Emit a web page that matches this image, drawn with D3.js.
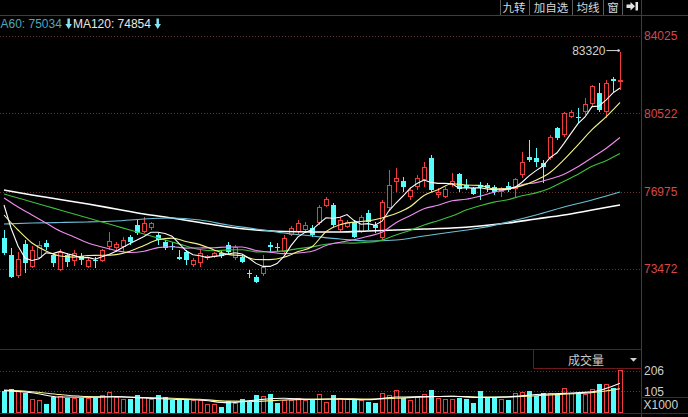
<!DOCTYPE html>
<html><head><meta charset="utf-8">
<script src="https://cdn.jsdelivr.net/npm/d3@7"></script>
<style>
html,body{margin:0;padding:0;background:#000;overflow:hidden;}
svg{display:block;}
</style></head><body>
<svg id="c" width="688" height="417"></svg>
<script>
// ---------- data ----------
const opens  = [74876,74106,73155,74604,73563,73970,74650,74106,73427,74106,73834,74061,73563,73880,73834,74468,74423,74468,74921,75465,75148,75329,75012,74695,74514,74015,74242,73653,73744,73970,74015,74197,74559,73970,74015,73291,73110,73246,74559,74468,74242,75012,75148,75238,75329,75555,76325,76371,75238,75374,75601,75148,76008,75465,74876,76235,77412,77458,76733,77186,77503,78499,76823,76733,77276,77775,77276,77140,77276,77276,77186,76959,77231,77095,77729,78544,78499,78273,78499,79858,79541,80356,80356,80583,80945,81443,80583,82077,81941];
const highs  = [75238,74423,74242,74785,74514,74740,74785,74197,74378,74197,74332,74197,74015,74015,74378,75148,74695,74921,75012,75691,75827,75601,75102,74785,74695,74332,74332,73970,74332,74106,74242,74287,74695,74559,74106,73427,73200,74106,74695,74650,75012,75420,75691,75601,75465,76371,76733,76461,75827,75691,75691,75918,76144,75601,76597,77956,78046,77639,77186,77729,78318,78635,77140,77186,77820,77820,77548,77186,77412,77367,77276,77186,77412,77593,78771,79314,78952,78409,79541,79903,80583,80673,80764,81217,81805,81896,82032,82168,83320];
const lows   = [74106,73064,73064,73291,73517,73925,74332,73563,73381,73563,73608,73653,73517,73517,73789,74332,74242,74242,74559,75012,75102,75238,74559,74332,74332,73880,73653,73563,73563,73880,73970,73970,74106,73880,73744,73064,72838,73155,74197,74287,74197,74966,75012,75102,74921,75465,76280,75374,75148,75350,74876,75102,75238,75102,74785,76144,76959,76959,76597,77050,77186,76959,76688,76688,77186,76959,77050,76823,76597,76959,76823,76733,76959,76733,77593,78318,78092,77367,78409,79314,79450,80311,80084,80447,80809,80583,80311,81488,81579];
const closes = [74197,73110,73925,73744,74332,74559,74468,73744,74242,73789,74197,73880,73880,73834,74332,74740,74604,74785,74695,75102,75555,75555,74785,74423,74468,73925,73880,73880,74197,74061,74197,74061,74242,74468,73789,73246,72883,73563,74468,74423,74876,75329,75555,75465,75012,76280,76642,75465,75691,75601,74921,75827,75601,75329,76506,77276,77593,77186,77050,77593,78092,77050,76959,77095,77458,77095,77186,76869,77186,77140,76959,77140,77050,77548,78318,78409,78318,78092,79450,79405,80537,80583,80311,80945,81760,80673,81896,81987,82032];
const volumes = [107,116,109,99,67,64,44,80,83,72,72,75,75,72,88,101,80,67,67,88,77,67,88,77,64,67,67,64,64,44,44,31,59,48,67,55,88,83,93,50,64,64,72,64,64,93,55,88,72,67,67,64,55,48,96,88,112,72,64,80,93,112,72,67,67,72,67,50,109,80,77,67,64,96,104,109,83,96,96,93,120,96,96,93,116,141,141,120,209];

// moving average lines
const ma5 = [76371,75329,74514,73970,73861,73934,74206,74169,74269,74160,74088,73970,73997,73916,74024,74133,74278,74459,74631,74785,74948,75139,75139,75084,74957,74631,74296,74115,74070,73988,74043,74079,74151,74206,74151,73961,73726,73590,73590,73717,74043,74532,74930,75130,75247,75528,75791,75773,75818,75936,75664,75501,75528,75456,75637,76108,76461,76778,77122,77340,77503,77394,77349,77358,77331,77131,77159,77141,77159,77095,77068,77059,77095,77168,77403,77693,77929,78137,78517,78735,79161,79614,80057,80356,80827,80855,81117,81452,81670];
const step2 = d3.range(0, 89, 2);
const ma10 = [75918,75238,74650,74287,74061,74011,74083,74092,74124,74274,74541,74799,74871,74717,74577,74337,74133,74070,73902,73898,74002,74260,74482,75161,75474,75596,75650,75786,75981,76289,76805,77064,77335,77277,77258,77100,77118,77249,77494,77843,78427,79097,79781,80365,81013];
const ma20 = [76688,76280,75918,75555,75193,74921,74650,74468,74310,74219,74276,74441,74482,74419,74425,74437,74468,74468,74310,74237,74169,74197,74274,74532,74686,74799,74953,75134,75569,75882,76199,76357,76561,76629,76774,76950,77091,77290,77385,77548,77761,78105,78513,78930,79428];
const ma30 = [76869,76688,76507,76325,76144,75963,75782,75601,75420,75238,75057,74876,74695,74514,74355,74296,74337,74346,74246,74251,74292,74396,74473,74595,74650,74645,74681,74781,75016,75220,75469,75660,75868,76140,76339,76502,76611,76792,76919,77131,77444,77761,78123,78377,78703];
const step4 = d3.range(0, 89, 4);
const ma60  = [75510,75555,75578,75601,75646,75737,75782,75691,75465,75284,75102,74967,74831,74740,74785,74967,75148,75329,75601,75918,76280,76597,76959];
const ma120 = [77050,76824,76620,76416,76190,75963,75782,75578,75374,75238,75170,75148,75148,75193,75238,75284,75329,75420,75555,75737,75918,76144,76371];
const volMa5  = [109,99,78,77,81,73,67,64,50,64,72,66,68,65,78,80,82,76,79,90,96,103,145];
const volMa10 = [112,104,90,80,78,76,72,67,58,57,64,68,70,68,72,79,82,78,78,84,92,99,118];

const priceTicks = [84025, 80522, 76975, 73472];
const volTicks = [206, 105];
const volUnit = "X1000";
const highLabel = "83320";
const buttons = ["九转", "加自选", "均线", "窗"];
const legendTexts = ["A60: 75034", "MA120: 74854"];
const volTitle = "成交量";

// ---------- colours ----------
const RED = "#f03c3c", CYAN = "#54fcfc";
const FRAME = "#8e1c1c", DIM = "#6e1818";
const maColors = {ma5:"#ffffff", ma10:"#f4f48c", ma20:"#f08cf0", ma30:"#3cc03c", ma60:"#6cc0d8", ma120:"#ffffff"};

// ---------- scales ----------
const svg = d3.select("#c");
const n = opens.length;
const x = d3.scaleLinear().domain([0, n - 1]).range([4, 620]);
const y = d3.scaleLinear().domain([73472, 84025]).range([269, 36]);
const yv = d3.scaleLinear().domain([0, 206]).range([413.1, 370.7]);
const plotRight = 641.5;

// ---------- frame ----------
svg.append("rect").attr("width", 688).attr("height", 417).attr("fill", "#000");

// grid lines
svg.append("g").selectAll("line").data(priceTicks).join("line")
  .attr("x1", 0).attr("x2", plotRight - 1)
  .attr("y1", d => Math.round(y(d)) + 0.5).attr("y2", d => Math.round(y(d)) + 0.5)
  .attr("stroke", "#6a3434").attr("stroke-dasharray", "1,2");
svg.append("g").selectAll("line").data(volTicks).join("line")
  .attr("x1", 0).attr("x2", plotRight - 1)
  .attr("y1", d => Math.round(yv(d)) + 0.5).attr("y2", d => Math.round(yv(d)) + 0.5)
  .attr("stroke", "#6a3434").attr("stroke-dasharray", "1,2");

// header line, axis line, separators
svg.append("line").attr("x1", 0).attr("x2", 688).attr("y1", 15.5).attr("y2", 15.5).attr("stroke", FRAME);
svg.append("line").attr("x1", plotRight).attr("x2", plotRight).attr("y1", 0).attr("y2", 417).attr("stroke", FRAME);
svg.append("line").attr("x1", 0).attr("x2", plotRight).attr("y1", 349.5).attr("y2", 349.5).attr("stroke", DIM);
svg.append("line").attr("x1", 0).attr("x2", plotRight).attr("y1", 413.5).attr("y2", 413.5).attr("stroke", DIM);

// ---------- candles ----------
const cg = svg.append("g").attr("shape-rendering", "crispEdges");
const cand = d3.range(n).map(i => ({i, o: opens[i], h: highs[i], l: lows[i], c: closes[i]}));
cand.forEach(d => {
  const cx = Math.round(x(d.i));
  const up = d.c >= d.o;
  const col = up ? RED : CYAN;
  const top = Math.round(y(Math.max(d.o, d.c)));
  const bot = Math.round(y(Math.min(d.o, d.c)));
  const hy = Math.round(y(d.h)), ly = Math.round(y(d.l));
  const hgt = Math.max(1, bot - top);
  if (up) {
    cg.append("line").attr("x1", cx + 0.5).attr("x2", cx + 0.5).attr("y1", hy).attr("y2", top).attr("stroke", col);
    cg.append("line").attr("x1", cx + 0.5).attr("x2", cx + 0.5).attr("y1", top + hgt).attr("y2", ly).attr("stroke", col);
    if (hgt <= 1) {
      cg.append("rect").attr("x", cx - 2).attr("y", top).attr("width", 5).attr("height", 1).attr("fill", col);
    } else {
      cg.append("rect").attr("x", cx - 1.5).attr("y", top + 0.5).attr("width", 4).attr("height", hgt - 1)
        .attr("fill", "#000").attr("stroke", col);
    }
  } else {
    cg.append("line").attr("x1", cx + 0.5).attr("x2", cx + 0.5).attr("y1", hy).attr("y2", ly).attr("stroke", col);
    cg.append("rect").attr("x", cx - 2).attr("y", top).attr("width", 5).attr("height", hgt).attr("fill", col);
  }
});

// ---------- MA lines ----------
function drawLine(idx, vals, color, width, curve, scale) {
  const line = d3.line().x((d, k) => x(idx[k])).y(d => scale(d)).curve(curve);
  svg.append("path").datum(vals).attr("d", line).attr("fill", "none")
    .attr("stroke", color).attr("stroke-width", width);
}
const allIdx = d3.range(n);
drawLine(step4, ma120, maColors.ma120, 1.6, d3.curveMonotoneX, y);
drawLine(step4, ma60, maColors.ma60, 1.2, d3.curveMonotoneX, y);
drawLine(step2, ma30, maColors.ma30, 1.1, d3.curveMonotoneX, y);
drawLine(step2, ma20, maColors.ma20, 1.1, d3.curveMonotoneX, y);
drawLine(step2, ma10, maColors.ma10, 1.1, d3.curveMonotoneX, y);
drawLine(allIdx, ma5, maColors.ma5, 1.1, d3.curveLinear, y);

// high marker
const lastI = n - 1;
const hx = Math.round(x(lastI)) + 0.5, hyy = y(highs[lastI]);
svg.append("line").attr("x1", hx - 14).attr("x2", hx - 1).attr("y1", hyy - 1).attr("y2", hyy - 1)
  .attr("stroke", "#d8d8d8").attr("stroke-width", 1);
svg.append("circle").attr("cx", hx - 2).attr("cy", hyy - 1).attr("r", 1.3).attr("fill", "#d8d8d8");
svg.append("text").attr("x", hx - 15).attr("y", hyy + 3).attr("text-anchor", "end")
  .attr("font-family", "Liberation Sans, Arial, sans-serif").attr("font-size", 12)
  .attr("fill", "#d0d0d0").text(highLabel);

// ---------- volume ----------
const vg = svg.append("g").attr("shape-rendering", "crispEdges");
volumes.forEach((v, i) => {
  const cx = Math.round(x(i));
  const up = closes[i] >= opens[i];
  const top = Math.round(yv(v));
  const base = 413;
  if (up) {
    vg.append("rect").attr("x", cx - 1.5).attr("y", top + 0.5).attr("width", 4).attr("height", base - top - 1)
      .attr("fill", "none").attr("stroke", RED);
  } else {
    vg.append("rect").attr("x", cx - 2).attr("y", top).attr("width", 5).attr("height", base - top).attr("fill", CYAN);
  }
});
drawLine(step4, volMa10, "#f4f48c", 1.1, d3.curveMonotoneX, yv);
drawLine(step4, volMa5, "#ffffff", 1.1, d3.curveMonotoneX, yv);

// ---------- right axis labels ----------
const numFont = "Liberation Sans, Arial, sans-serif";
svg.append("g").selectAll("text").data(priceTicks).join("text")
  .attr("x", 644).attr("y", d => y(d) + 4.3)
  .attr("font-family", numFont).attr("font-size", 12).attr("fill", "#d84848")
  .text(d => d);
svg.append("g").selectAll("text").data(volTicks).join("text")
  .attr("x", 644).attr("y", d => yv(d) + 4.3)
  .attr("font-family", numFont).attr("font-size", 12).attr("fill", "#cfcfcf")
  .text(d => d);
svg.append("rect").attr("x", plotRight).attr("y", 397.5).attr("width", 50).attr("height", 16)
  .attr("fill", "none").attr("stroke", DIM);
svg.append("text").attr("x", 643.5).attr("y", 408.5).attr("font-family", numFont).attr("font-size", 12)
  .attr("fill", "#cfcfcf").text(volUnit);

// volume title box
svg.append("path").attr("d", `M533.5,349.5V368.5H${plotRight}`).attr("fill", "none").attr("stroke", DIM);
svg.append("text").attr("x", 586).attr("y", 365).attr("text-anchor", "middle")
  .attr("font-family", "Noto Sans CJK SC, sans-serif").attr("font-size", 12).attr("fill", "#c8c8c8").text(volTitle);
svg.append("path").attr("d", "M630,358H637L633.5,361.8Z").attr("fill", "#d0d0d0");

// ---------- top buttons ----------
const sepX = [500.5, 529.5, 572.5, 603.5, 622.5];
const btnCenters = [514, 551, 588, 613];
svg.append("g").selectAll("line").data(sepX).join("line")
  .attr("x1", d => d).attr("x2", d => d).attr("y1", 0).attr("y2", 15)
  .attr("stroke", "#5c5c5c");
svg.append("g").selectAll("text").data(buttons).join("text")
  .attr("x", (d, k) => btnCenters[k]).attr("y", 12.4).attr("text-anchor", "middle")
  .attr("font-family", "Noto Sans CJK SC, sans-serif").attr("font-size", 11.5).attr("fill", "#d8d8d8")
  .text(d => d);
svg.append("path").attr("d", "M626.5,4.5H630.5V2L635,6.2L630.5,10.4V8H626.5Z").attr("fill", "#e4e4e4");
svg.append("rect").attr("x", 635.5).attr("y", 2).attr("width", 2.5).attr("height", 8.5).attr("fill", "#e4e4e4");

// ---------- legend ----------
const legendColors = ["#4ea7bd", "#e8e8e8"];
let lx = 0.5;
legendTexts.forEach((t, k) => {
  const tx = svg.append("text").attr("x", lx).attr("y", 28.3)
    .attr("font-family", numFont).attr("font-size", 12).attr("fill", legendColors[k]).text(t);
  const w = tx.node().getComputedTextLength();
  const ax = lx + w + 3.5;
  svg.append("path")
    .attr("d", `M${ax + 2},18.5H${ax + 4.5}V24H${ax + 6.5}L${ax + 3.25},29L${ax},24H${ax + 2}Z`)
    .attr("fill", "#84e4f4");
  lx = ax + 7.5;
});
</script>
</body></html>
